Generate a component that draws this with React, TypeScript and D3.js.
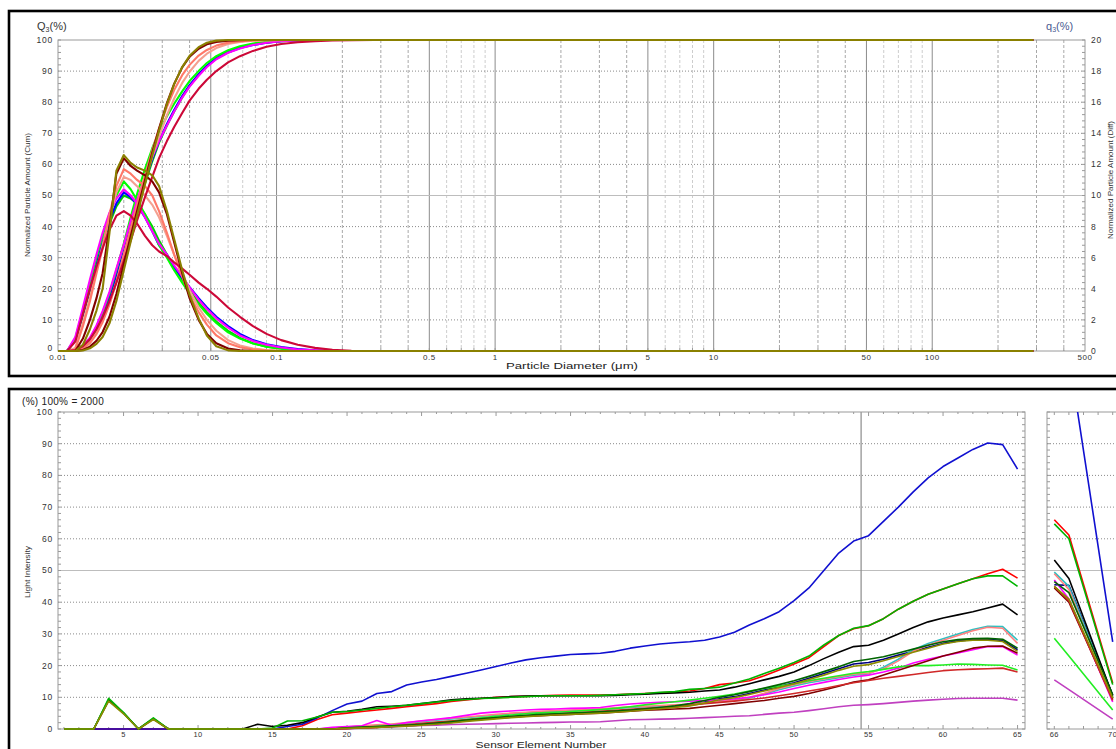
import React from "react";
import * as d3 from "d3";

// ================= TOP CHART DATA (particle size distribution) =================
const sizes = [0.01, 0.011, 0.012, 0.013, 0.014, 0.015, 0.016, 0.0172, 0.0185, 0.02,
  0.0215, 0.023, 0.025, 0.027, 0.029, 0.0315, 0.034, 0.037, 0.04, 0.044,
  0.048, 0.053, 0.06, 0.068, 0.078, 0.09, 0.105, 0.125, 0.15, 0.18,
  0.22, 0.28, 0.5, 1, 5, 10, 50, 100, 290];

const oliveDiff = [0, 0, 0, 0.4, 1.4, 2.6, 4.0, 7.6, 11.6, 12.6,
  12.1, 11.8, 11.6, 11.3, 10.6, 9.0, 7.2, 5.2, 3.6, 2.1,
  1.0, 0.3, 0.04, 0, 0, 0, 0, 0, 0, 0,
  0, 0, 0, 0, 0, 0, 0, 0, 0];
const oliveCum = [0, 0, 0, 0.17, 0.86, 2.3, 4.5, 8.9, 16.1, 26,
  35.1, 43.5, 53.6, 62.9, 71, 79.4, 85.8, 91.3, 94.9, 97.7,
  99.1, 99.8, 100, 100, 100, 100, 100, 100, 100, 100,
  100, 100, 100, 100, 100, 100, 100, 100, 100];

const maroonDiff = [0, 0, 0, 0.8, 2, 3.4, 5, 8, 11.4, 12.4,
  11.9, 11.6, 11.3, 10.9, 10.2, 8.8, 7, 5, 3.4, 2,
  1.1, 0.5, 0.16, 0.04, 0, 0, 0, 0, 0, 0,
  0, 0, 0, 0, 0, 0, 0, 0, 0];
const maroonCum = [0, 0, 0, 0.33, 1.4, 3.3, 6.1, 11, 18.3, 27.9,
  36.9, 45, 54.9, 63.8, 71.5, 79.7, 85.9, 91.2, 94.6, 97.2,
  98.6, 99.4, 99.8, 99.97, 100, 100, 100, 100, 100, 100,
  100, 100, 100, 100, 100, 100, 100, 100, 100];

const salmonDiff = [0, 0, 0.1, 1.6, 3.2, 5, 6.6, 8.8, 10.6, 11.7,
  11.4, 11, 10.6, 10, 9, 7.6, 6.2, 4.8, 3.6, 2.5,
  1.7, 1, 0.5, 0.24, 0.1, 0.04, 0, 0, 0, 0,
  0, 0, 0, 0, 0, 0, 0, 0, 0];
const salmonCum = [0, 0, 0.05, 0.74, 2.55, 5.46, 9.27, 15, 22.2, 31.1,
  39.5, 47.2, 56.4, 64.6, 71.5, 78.5, 83.9, 88.7, 92, 95,
  96.8, 98.2, 99.15, 99.6, 99.86, 99.97, 100, 100, 100, 100,
  100, 100, 100, 100, 100, 100, 100, 100, 100];

const lightSalmonDiff = [0, 0, 0.2, 1.8, 3.4, 5.2, 6.8, 8.6, 10.2, 11.2,
  11, 10.6, 10, 9.4, 8.6, 7.4, 6.2, 5, 3.9, 2.8,
  2, 1.3, 0.7, 0.36, 0.16, 0.06, 0.02, 0, 0, 0,
  0, 0, 0, 0, 0, 0, 0, 0, 0];
const lightSalmonCum = [0, 0, 0.1, 0.9, 2.8, 5.8, 9.7, 15.2, 22.2, 30.6,
  38.7, 46, 54.8, 62.5, 69, 75.8, 81.2, 86.2, 89.8, 93.3,
  95.6, 97.4, 98.7, 99.4, 99.75, 99.9, 99.97, 100, 100, 100,
  100, 100, 100, 100, 100, 100, 100, 100, 100];

const greenDiff = [0, 0, 0.8, 2.6, 4.4, 6, 7.4, 8.8, 10, 10.9,
  10.4, 9.7, 8.8, 7.8, 6.8, 6, 5.2, 4.4, 3.7, 3,
  2.4, 1.8, 1.2, 0.8, 0.48, 0.28, 0.14, 0.06, 0, 0,
  0, 0, 0, 0, 0, 0, 0, 0, 0];
const greenCum = [0, 0, 0.3, 1.6, 4, 7.8, 12.3, 18.5, 26, 34.5,
  43, 50.5, 58.5, 65.2, 70.5, 75.5, 79.5, 83.5, 86.8, 90,
  92.6, 94.8, 96.7, 98, 98.9, 99.4, 99.75, 99.9, 100, 100,
  100, 100, 100, 100, 100, 100, 100, 100, 100];

const magentaDiff = [0, 0, 0.9, 2.8, 4.6, 6.2, 7.6, 8.9, 9.8, 10.4,
  10, 9.5, 8.6, 7.7, 6.9, 6.2, 5.5, 4.8, 4.1, 3.3,
  2.7, 2.1, 1.5, 1, 0.64, 0.4, 0.22, 0.1, 0.04, 0,
  0, 0, 0, 0, 0, 0, 0, 0, 0];
const magentaCum = [0, 0, 0.4, 1.8, 4.3, 8.2, 12.8, 19, 26.5, 34.2,
  41.8, 48.5, 55.8, 62.4, 67.5, 72.5, 77, 81.5, 85, 88.5,
  91.3, 93.8, 95.9, 97.3, 98.4, 99.1, 99.6, 99.85, 99.95, 100,
  100, 100, 100, 100, 100, 100, 100, 100, 100];

const blueDiff = [0, 0, 0.7, 2.4, 4, 5.6, 7, 8.4, 9.5, 10.2,
  9.9, 9.4, 8.6, 7.7, 6.8, 6.2, 5.4, 4.7, 4.1, 3.4,
  2.8, 2.2, 1.6, 1.1, 0.7, 0.44, 0.26, 0.12, 0.04, 0,
  0, 0, 0, 0, 0, 0, 0, 0, 0];
const blueCum = [0, 0, 0.3, 1.5, 3.9, 7.4, 11.6, 17.5, 24.5, 32,
  40, 47, 54.7, 61.8, 67.5, 73, 77.5, 82, 85.5, 89,
  91.7, 94, 96, 97.4, 98.4, 99.1, 99.6, 99.85, 100, 100,
  100, 100, 100, 100, 100, 100, 100, 100, 100];

const green2Diff = [0, 0, 0.7, 2.3, 3.9, 5.4, 6.8, 8.2, 9.3, 10,
  9.8, 9.5, 8.8, 8, 7.1, 6.2, 5.4, 4.6, 3.9, 3.1,
  2.5, 1.9, 1.3, 0.84, 0.5, 0.28, 0.14, 0.06, 0, 0,
  0, 0, 0, 0, 0, 0, 0, 0, 0];
const green2Cum = [0, 0, 0.3, 1.4, 3.5, 6.8, 10.8, 16.5, 23.3, 31,
  39, 45.8, 53.8, 61, 67, 72.5, 77, 81.5, 85.2, 88.8,
  91.6, 94.2, 96.3, 97.7, 98.6, 99.2, 99.6, 99.85, 100, 100,
  100, 100, 100, 100, 100, 100, 100, 100, 100];

const crimsonDiff = [0, 0, 0.6, 2.4, 4, 5.4, 6.6, 7.8, 8.7, 9,
  8.7, 8.2, 7.4, 6.8, 6.4, 6.1, 5.7, 5.3, 4.9, 4.4,
  4, 3.5, 2.8, 2.2, 1.6, 1.1, 0.7, 0.4, 0.2, 0.08,
  0.02, 0, 0, 0, 0, 0, 0, 0, 0];
const crimsonCum = [0, 0, 0.3, 1.5, 3.8, 7, 10.8, 16, 22, 29,
  35.5, 42, 49.5, 56, 62, 67.5, 72, 76.5, 80.5, 84.3,
  87.2, 90, 92.8, 94.8, 96.5, 97.8, 98.7, 99.3, 99.65, 99.85,
  99.95, 100, 100, 100, 100, 100, 100, 100, 100];

const topSeries = [
  { color: "#00cc00", cum: green2Cum, diff: green2Diff },
  { color: "#0000ff", cum: blueCum, diff: blueDiff },
  { color: "#00ff00", cum: greenCum, diff: greenDiff },
  { color: "#ff00ff", cum: magentaCum, diff: magentaDiff },
  { color: "#f4a090", cum: lightSalmonCum, diff: lightSalmonDiff },
  { color: "#ff7868", cum: salmonCum, diff: salmonDiff },
  { color: "#cc0838", cum: crimsonCum, diff: crimsonDiff },
  { color: "#800000", cum: maroonCum, diff: maroonDiff },
  { color: "#8a8000", cum: oliveCum, diff: oliveDiff },
];

const topTickValues = [0.01, 0.05, 0.1, 0.5, 1, 5, 10, 50, 100, 500];
const topTickLabels = ["0.01", "0.05", "0.1", "0.5", "1", "5", "10", "50", "100", "500"];
const cumTicks = [0, 10, 20, 30, 40, 50, 60, 70, 80, 90, 100];
const diffTicks = [0, 2, 4, 6, 8, 10, 12, 14, 16, 18, 20];

// ================= BOTTOM CHART DATA (light intensity per sensor) =================
const sensors = d3.range(1, 66);
const miniSensors = [66, 67, 70];
const sensorTicks = [5, 10, 15, 20, 25, 30, 35, 40, 45, 50, 55, 60, 65];
const miniTicks = [66, 70];
const intensityTicks = [0, 10, 20, 30, 40, 50, 60, 70, 80, 90, 100];

const blueB = [0, 0, 0, 0, 0, 0, 0, 0, 0, 0,
  0, 0, 0, 0, 0, 0.8, 1.5, 3.5, 5.8, 7.9,
  8.8, 11.2, 11.8, 13.9, 14.8, 15.6, 16.6, 17.6, 18.6, 19.7,
  20.8, 21.8, 22.5, 23, 23.5, 23.7, 23.9, 24.5, 25.5, 26.2,
  26.8, 27.2, 27.5, 28, 29, 30.5, 32.8, 34.8, 37, 40.5,
  44.5, 50, 55.5, 59.3, 61, 65.5, 70, 74.8, 79.2, 82.8,
  85.5, 88.2, 90.2, 89.7, 82];
const redB = [0, 0, 0, 0, 0, 0, 0, 0, 0, 0,
  0, 0, 0, 0, 0, 0, 1, 3, 4.5, 5,
  5.5, 6, 6.5, 7, 7.5, 8, 8.7, 9.2, 9.6, 10,
  10.2, 10.3, 10.5, 10.6, 10.7, 10.7, 10.7, 10.8, 11, 11.2,
  11.4, 11.6, 12, 12.8, 14, 14.5, 15.2, 16.8, 18.6, 20.5,
  22.5, 26, 29.5, 31.6, 32.6, 34.8, 37.8, 40.3, 42.5, 44.2,
  45.8, 47.4, 49, 50.4, 47.6];
const greenB = [0, 0, 0, 9.7, 5.2, 0, 3.5, 0, 0, 0,
  0, 0, 0, 0, 0.3, 2.5, 2.6, 3.8, 5.3, 5.5,
  6, 6.5, 7, 7.5, 8, 8.5, 9, 9.3, 9.6, 9.8,
  10, 10.2, 10.4, 10.5, 10.5, 10.5, 10.6, 10.8, 11, 11.2,
  11.6, 11.8, 12.5, 12.8, 13.2, 14.5, 15.8, 17.5, 19.2, 21,
  23, 26.5, 29.5, 31.8, 32.6, 34.8, 37.8, 40.3, 42.5, 44.2,
  45.8, 47.4, 48.3, 48.3, 45];
const blackB = [0, 0, 0, 9, 5, 0, 3.2, 0, 0, 0,
  0, 0, 0, 1.5, 0.8, 1.2, 2, 3.8, 5.3, 5.6,
  6.2, 7, 7.2, 7.5, 8, 8.6, 9.2, 9.5, 9.7, 9.9,
  10.2, 10.4, 10.5, 10.5, 10.5, 10.5, 10.5, 10.6, 10.8, 11,
  11.2, 11.4, 11.6, 12, 12.3, 13.2, 14.3, 15.5, 16.6, 18,
  20, 22.2, 24.2, 26, 26.4, 28, 30, 32, 33.8, 35,
  36, 37, 38.2, 39.4, 36];
const salmonB = [0, 0, 0, 0, 0, 0, 0, 0, 0, 0,
  0, 0, 0, 0, 0, 0, 0, 0, 0.3, 0.6,
  1, 1.3, 1.6, 2, 2.5, 3, 3.4, 3.8, 4.2, 4.6,
  5, 5.3, 5.6, 5.8, 6, 6.2, 6.4, 6.7, 7, 7.2,
  7.4, 7.6, 7.8, 8.3, 8.7, 9.1, 10, 11.3, 12.8, 14,
  15, 15.8, 16.5, 17.3, 17.6, 19, 21.5, 24.5, 26.5, 28,
  29.5, 31, 32.1, 31.8, 27];
const cyanB = [0, 0, 0, 0, 0, 0, 0, 0, 0, 0,
  0, 0, 0, 0, 0, 0, 0, 0, 0.2, 0.5,
  0.8, 1.1, 1.4, 1.8, 2.3, 2.8, 3.2, 3.6, 4, 4.4,
  4.8, 5.1, 5.4, 5.6, 5.8, 6, 6.2, 6.5, 6.8, 7,
  7.2, 7.4, 7.6, 8.1, 8.5, 9, 9.8, 11, 12.4, 13.6,
  14.6, 15.4, 16.2, 17, 17.4, 19.5, 22, 25, 27, 28.5,
  30, 31.4, 32.4, 32.3, 28];
const navyB = [0, 0, 0, 0, 0, 0, 0, 0, 0, 0,
  0, 0, 0, 0, 0, 0, 0, 0, 0, 0.3,
  0.45, 0.6, 0.8, 1, 1.3, 1.7, 2.1, 2.6, 3, 3.4,
  3.8, 4.1, 4.4, 4.6, 4.8, 5, 5.2, 5.5, 5.8, 6.2,
  6.6, 7, 7.5, 8.5, 9.5, 10.2, 11.2, 12.3, 13.4, 14.6,
  16, 17.5, 19, 20.5, 21, 22, 23.3, 24.5, 25.8, 27,
  27.8, 28.2, 28.3, 27.9, 25];
const darkGreenB = [0, 0, 0, 9.3, 5, 0, 3.3, 0, 0, 0,
  0, 0, 0, 0, 0, 0, 0, 0, 0, 0.4,
  0.6, 0.8, 1, 1.2, 1.5, 1.9, 2.3, 2.8, 3.2, 3.6,
  4, 4.3, 4.6, 4.8, 5, 5.2, 5.4, 5.7, 6, 6.4,
  6.8, 7.3, 8, 9, 10, 10.8, 11.8, 12.9, 14, 15.2,
  16.6, 18.1, 19.6, 21.3, 22, 22.8, 24, 25.2, 26.4, 27.5,
  28.2, 28.5, 28.6, 28.3, 25.5];
const oliveB = [0, 0, 0, 8.8, 4.8, 0, 3, 0, 0, 0,
  0, 0, 0, 0, 0, 0, 0, 0, 0, 0.2,
  0.35, 0.5, 0.7, 0.9, 1.2, 1.5, 1.9, 2.4, 2.8, 3.2,
  3.6, 3.9, 4.2, 4.4, 4.6, 4.8, 5, 5.3, 5.6, 6,
  6.4, 6.8, 7.3, 8.2, 9.2, 9.9, 10.9, 12, 13.1, 14.3,
  15.6, 17, 18.5, 19.8, 20.3, 21.5, 22.9, 24.2, 25.5, 26.8,
  27.6, 28, 28, 27.6, 24.5];
const maroonB = [0, 0, 0, 0, 0, 0, 0, 0, 0, 0,
  0, 0, 0, 0, 0, 0, 0, 0, 0, 0.2,
  0.4, 0.6, 0.8, 1.1, 1.5, 1.9, 2.3, 2.7, 3.1, 3.4,
  3.7, 4, 4.2, 4.4, 4.6, 4.8, 5, 5.3, 5.6, 5.9,
  6.1, 6.3, 6.5, 7, 7.5, 8, 8.5, 9, 9.7, 10.3,
  11.2, 12.3, 13.5, 14.8, 15.5, 17, 18.5, 20, 21.5, 23,
  24.2, 25.5, 26.1, 26.2, 23.9];
const magentaB = [0, 0, 0, 0, 0, 0, 0, 0, 0, 0,
  0, 0, 0, 0, 0, 0, 0, 0, 0.5, 0.8,
  1, 2.7, 1.2, 2, 2.6, 3.1, 3.6, 4.3, 5, 5.4,
  5.7, 6, 6.2, 6.3, 6.5, 6.6, 6.8, 7.4, 7.9, 8.2,
  8.4, 8.6, 8.8, 9, 9.2, 9.5, 10, 10.8, 11.7, 12.8,
  13.8, 14.7, 15.6, 16.4, 17, 18, 19.2, 20.8, 22, 23,
  24, 25, 26, 26, 23.3];
const green2B = [0, 0, 0, 0, 0, 0, 0, 0, 0, 0,
  0, 0, 0, 0, 0, 0, 0, 0, 0, 0.3,
  0.5, 0.8, 1, 1.3, 1.6, 2, 2.5, 3, 3.5, 4,
  4.4, 4.8, 5.1, 5.3, 5.5, 5.8, 6.1, 6.5, 7, 7.6,
  8.1, 8.6, 9.1, 9.7, 10.3, 11, 12, 12.8, 13.5, 14.3,
  15.2, 16, 16.8, 17.6, 18.1, 18.8, 19.6, 20, 20, 20.2,
  20.5, 20.4, 20.2, 20.1, 18.6];
const crimsonB = [0, 0, 0, 0, 0, 0, 0, 0, 0, 0,
  0, 0, 0, 0, 0, 0, 0, 0, 0, 0.2,
  0.35, 0.5, 0.9, 1.3, 1.8, 2.2, 2.5, 2.9, 3.2, 3.5,
  3.8, 4.1, 4.4, 4.7, 5, 5.3, 5.6, 5.9, 6.2, 6.5,
  6.8, 7.1, 7.5, 8, 8.4, 8.8, 9.3, 9.8, 10.5, 11.2,
  12, 12.8, 13.7, 14.6, 15.3, 16, 16.6, 17.2, 17.8, 18.4,
  18.7, 18.9, 19, 19.2, 18];
const orchidB = [0, 0, 0, 0, 0, 0, 0, 0, 0, 0,
  0, 0, 0, 0, 0, 0, 0, 0, 0, 0,
  0.3, 0.5, 0.7, 0.9, 1.1, 1.2, 1.4, 1.5, 1.6, 1.7,
  1.8, 1.9, 2, 2.1, 2.2, 2.2, 2.3, 2.6, 2.9, 3,
  3.1, 3.2, 3.4, 3.6, 3.8, 4, 4.2, 4.6, 5, 5.3,
  5.8, 6.4, 7, 7.5, 7.7, 8, 8.4, 8.8, 9.1, 9.4,
  9.6, 9.7, 9.7, 9.7, 9.1];

// sensors 66, 67, 70 (right-hand panel)
const blueM = [148, 118, 27.5];
const redM = [66, 61.2, 14.5];
const greenM = [64.7, 60, 14];
const blackM = [53.3, 47.5, 10.5];
const salmonM = [49, 44, 9.5];
const cyanM = [49.5, 45, 10];
const navyM = [45.5, 45.3, 10.7];
const darkGreenM = [46.5, 43, 10.8];
const oliveM = [45, 41, 9.8];
const maroonM = [44.5, 40, 9.3];
const magentaM = [47, 41, 8.5];
const green2M = [28.6, 23, 6];
const crimsonM = [45, 40.5, 9];
const orchidM = [15.5, 12.4, 3.1];

const botSeries = [
  { color: "#000080", main: navyB, mini: navyM },
  { color: "#30c0c0", main: cyanB, mini: cyanM },
  { color: "#ff8080", main: salmonB, mini: salmonM },
  { color: "#ff00ff", main: magentaB, mini: magentaM },
  { color: "#22ee22", main: green2B, mini: green2M },
  { color: "#c040c0", main: orchidB, mini: orchidM },
  { color: "#800000", main: maroonB, mini: maroonM },
  { color: "#d02828", main: crimsonB, mini: crimsonM },
  { color: "#ff0000", main: redB, mini: redM },
  { color: "#1010d0", main: blueB, mini: blueM },
  { color: "#000000", main: blackB, mini: blackM },
  { color: "#006400", main: darkGreenB, mini: darkGreenM },
  { color: "#00b400", main: greenB, mini: greenM },
  { color: "#8c8c00", main: oliveB, mini: oliveM },
];

// ================= LAYOUT =================
const W = 1116, H = 749;
const T = { left: 58, right: 1085, top: 40, bottom: 351 };
const B = { left: 58, right: 1025, top: 412, bottom: 729 };
const M = { left: 1047, right: 1125, top: 412, bottom: 729 };

const xTop = d3.scaleLog().domain([0.01, 500]).range([T.left, T.right]);
const yCum = d3.scaleLinear().domain([0, 100]).range([T.bottom, T.top]);
const yDiff = d3.scaleLinear().domain([0, 20]).range([T.bottom, T.top]);
const xBot = d3.scaleLinear().domain([0.6, 65.5]).range([B.left, B.right]);
const yBot = d3.scaleLinear().domain([0, 100]).range([B.bottom, B.top]);
const xMini = d3.scaleLinear().domain([65.5, 70.5]).range([M.left, M.left + 73]);

const FONT = "'Liberation Sans', Arial, sans-serif";
const GRID = "#9a9a9a";

export default function App() {
  const lineCum = d3.line<number>().x((_, i) => xTop(sizes[i])).y((d) => yCum(d));
  const lineDiff = d3.line<number>().x((_, i) => xTop(sizes[i])).y((d) => yDiff(d));
  const lineBot = d3.line<number>().x((_, i) => xBot(sensors[i])).y((d) => yBot(d));
  const lineMini = d3.line<number>().x((_, i) => xMini(miniSensors[i])).y((d) => yBot(d));

  const vGrid: { v: number; m: number }[] = [];
  for (let k = -2; k <= 2; k++) {
    for (let m = 1; m <= 9; m++) {
      const v = m * Math.pow(10, k);
      if (v <= 0.0100001 || v >= 499.999) continue;
      vGrid.push({ v, m });
    }
  }
  const minorY = d3.range(0, 101, 2);
  const hGrid = [10, 20, 30, 40, 60, 70, 80, 90];
  const intSensors = d3.range(1, 66);

  return (
    <div style={{ position: "absolute", left: 0, top: 0, width: W, height: H, background: "#fff", overflow: "hidden" }}>
      <svg width={W} height={H} style={{ display: "block" }} fontFamily={FONT}>
        <defs>
          <clipPath id="clipTop">
            <rect x={T.left} y={T.top - 2} width={T.right - T.left} height={T.bottom - T.top + 4} />
          </clipPath>
          <clipPath id="clipBot">
            <rect x={B.left} y={B.top - 1} width={B.right - B.left} height={B.bottom - B.top + 2} />
          </clipPath>
          <clipPath id="clipMini">
            <rect x={M.left} y={M.top} width={M.right - M.left} height={M.bottom - M.top + 2} />
          </clipPath>
        </defs>

        {/* ================= TOP PANEL ================= */}
        <rect x={9} y={11} width={1130} height={365} fill="none" stroke="#000" strokeWidth={2.6} />

        {vGrid.map(({ v, m }, i) => {
          const solid = m === 1 || m === 5;
          const strong = m <= 4;
          return (
            <line key={"vg" + i} x1={xTop(v)} x2={xTop(v)} y1={T.top} y2={T.bottom}
              stroke={solid ? "#8c8c8c" : strong ? "#a8a8a8" : "#cdcdcd"}
              strokeWidth={1} strokeDasharray={solid ? undefined : "3,2"} />
          );
        })}
        {hGrid.map((v) => (
          <line key={"hg" + v} x1={T.left} x2={T.right} y1={yCum(v)} y2={yCum(v)}
            stroke="#8a8a8a" strokeWidth={1} strokeDasharray="1,2" />
        ))}
        <line x1={T.left} x2={T.right} y1={yCum(50)} y2={yCum(50)} stroke="#bdbdbd" strokeWidth={1.2} />
        <rect x={T.left} y={T.top} width={T.right - T.left} height={T.bottom - T.top} fill="none" stroke={GRID} strokeWidth={1} />

        {minorY.map((v) => (
          <g key={"ty" + v}>
            <line x1={T.left} x2={T.left + 3} y1={yCum(v)} y2={yCum(v)} stroke={GRID} />
            <line x1={T.right - 3} x2={T.right} y1={yCum(v)} y2={yCum(v)} stroke={GRID} />
          </g>
        ))}
        {vGrid.map(({ v }, i) => (
          <line key={"tx" + i} x1={xTop(v)} x2={xTop(v)} y1={T.bottom} y2={T.bottom - 3} stroke={GRID} />
        ))}

        <g clipPath="url(#clipTop)" fill="none" strokeLinejoin="round">
          {topSeries.map((s, i) => (
            <g key={"ts" + i}>
              <path d={lineCum(s.cum) || ""} stroke={s.color} strokeWidth={2.1} />
              <path d={lineDiff(s.diff) || ""} stroke={s.color} strokeWidth={2.1} />
            </g>
          ))}
        </g>

        {cumTicks.map((v) => (
          <text key={"cl" + v} x={53} y={v === 0 ? yCum(v) - 3 : yCum(v)} dy="0.35em" textAnchor="end" fontSize={8.5} fill="#333" letterSpacing={0.8}>{v}</text>
        ))}
        {diffTicks.map((v) => (
          <text key={"dl" + v} x={1091} y={yDiff(v)} dy="0.35em" textAnchor="start" fontSize={8.5} fill="#333" letterSpacing={0.8}>{v}</text>
        ))}
        {topTickValues.map((v, i) => (
          <text key={"xl" + i} x={xTop(v)} y={360} textAnchor="middle" fontSize={8} fill="#333" letterSpacing={0.5}>{topTickLabels[i]}</text>
        ))}
        <text x={37} y={30} fontSize={11} fill="#333">Q<tspan fontSize={7} dy={2}>3</tspan><tspan dy={-2}>(%)</tspan></text>
        <text x={1046} y={30} fontSize={11} fill="#4a5a90">q<tspan fontSize={7} dy={2}>3</tspan><tspan dy={-2}>(%)</tspan></text>
        <text transform="translate(30,195) rotate(-90)" textAnchor="middle" fontSize={8} fill="#333" textLength={124} lengthAdjust="spacingAndGlyphs">Normalized Particle Amount (Cum)</text>
        <text transform="translate(1113,180) rotate(-90)" textAnchor="middle" fontSize={8} fill="#333" textLength={118} lengthAdjust="spacingAndGlyphs">Normalized Particle Amount (Diff)</text>
        <text x={572} y={369} textAnchor="middle" fontSize={9.5} fill="#222" textLength={132} lengthAdjust="spacingAndGlyphs">Particle Diameter (μm)</text>

        {/* ================= BOTTOM PANEL ================= */}
        <rect x={9} y={389} width={1130} height={420} fill="none" stroke="#000" strokeWidth={2.6} />

        {hGrid.map((v) => (
          <line key={"bh" + v} x1={B.left} x2={B.right} y1={yBot(v)} y2={yBot(v)} stroke="#8a8a8a" strokeDasharray="1,2" />
        ))}
        <line x1={B.left} x2={B.right} y1={yBot(50)} y2={yBot(50)} stroke="#bdbdbd" strokeWidth={1.2} />
        <line x1={xBot(54.5)} x2={xBot(54.5)} y1={B.top} y2={B.bottom} stroke="#8c8c8c" strokeWidth={1.2} />
        <rect x={B.left} y={B.top} width={B.right - B.left} height={B.bottom - B.top} fill="none" stroke={GRID} />
        {intSensors.map((n) => {
          const len = n % 5 === 0 ? 4 : 2;
          return (
            <g key={"bt" + n}>
              <line x1={xBot(n)} x2={xBot(n)} y1={B.top} y2={B.top + len} stroke={GRID} />
              <line x1={xBot(n)} x2={xBot(n)} y1={B.bottom} y2={B.bottom - len} stroke={GRID} />
            </g>
          );
        })}
        {minorY.map((v) => (
          <g key={"by" + v}>
            <line x1={B.left} x2={B.left + 3} y1={yBot(v)} y2={yBot(v)} stroke={GRID} />
            <line x1={B.right - 3} x2={B.right} y1={yBot(v)} y2={yBot(v)} stroke={GRID} />
            <line x1={M.left} x2={M.left + 3} y1={yBot(v)} y2={yBot(v)} stroke={GRID} />
          </g>
        ))}

        {hGrid.map((v) => (
          <line key={"mh" + v} x1={M.left} x2={M.right} y1={yBot(v)} y2={yBot(v)} stroke="#8a8a8a" strokeDasharray="1,2" />
        ))}
        <line x1={M.left} x2={M.right} y1={yBot(50)} y2={yBot(50)} stroke="#bdbdbd" strokeWidth={1.2} />
        <rect x={M.left} y={M.top} width={M.right - M.left} height={M.bottom - M.top} fill="none" stroke={GRID} />
        {[66, 67, 68, 69, 70].map((n) => (
          <g key={"mt" + n}>
            <line x1={xMini(n)} x2={xMini(n)} y1={M.top} y2={M.top + 3} stroke={GRID} />
            <line x1={xMini(n)} x2={xMini(n)} y1={M.bottom} y2={M.bottom - 3} stroke={GRID} />
          </g>
        ))}

        <g clipPath="url(#clipBot)" fill="none" strokeLinejoin="round">
          {botSeries.map((s, i) => (
            <path key={"bs" + i} d={lineBot(s.main) || ""} stroke={s.color} strokeWidth={1.6} />
          ))}
        </g>
        <g clipPath="url(#clipMini)" fill="none" strokeLinejoin="round">
          {botSeries.map((s, i) => (
            <path key={"ms" + i} d={lineMini(s.mini) || ""} stroke={s.color} strokeWidth={1.6} />
          ))}
        </g>

        {intensityTicks.map((v) => (
          <text key={"il" + v} x={53} y={yBot(v)} dy="0.35em" textAnchor="end" fontSize={8.5} fill="#333" letterSpacing={0.8}>{v}</text>
        ))}
        {sensorTicks.map((v) => (
          <text key={"sl" + v} x={xBot(v)} y={736.5} textAnchor="middle" fontSize={7.5} fill="#333" letterSpacing={0.5}>{v}</text>
        ))}
        {miniTicks.map((v) => (
          <text key={"ml" + v} x={xMini(v)} y={736.5} textAnchor="middle" fontSize={7.5} fill="#333" letterSpacing={0.5}>{v}</text>
        ))}
        <text x={22} y={405} fontSize={10} fill="#222" letterSpacing={0.3}>(%) 100% = 2000</text>
        <text transform="translate(30,572) rotate(-90)" textAnchor="middle" fontSize={8} fill="#333" textLength={52} lengthAdjust="spacingAndGlyphs">Light Intensity</text>
        <text x={541} y={747.5} textAnchor="middle" fontSize={9.5} fill="#222" textLength={131} lengthAdjust="spacingAndGlyphs">Sensor Element Number</text>
      </svg>
    </div>
  );
}
